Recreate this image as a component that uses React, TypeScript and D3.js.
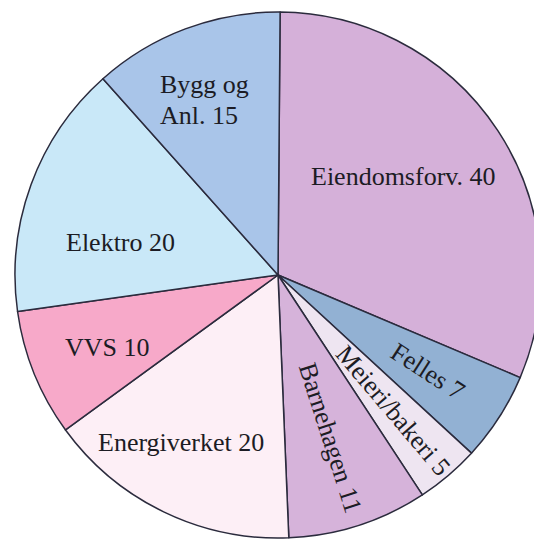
import React from "react";
import * as d3 from "d3";

const categories = [
  "Eiendomsforv.",
  "Felles",
  "Meieri/bakeri",
  "Barnehagen",
  "Energiverket",
  "VVS",
  "Elektro",
  "Bygg og Anl.",
];
const values = [40, 7, 5, 11, 20, 10, 20, 15];
const colors = [
  "#d5b0d9",
  "#92b1d3",
  "#eee5f1",
  "#d6b3da",
  "#fdeff6",
  "#f7a9c9",
  "#c9e8f8",
  "#a9c5e9",
];

// label layout (text lines, placement). "radial" labels follow the slice's mid angle.
type Lab =
  | { kind: "h"; lines: string[]; x: number; y: number }
  | { kind: "r"; lines: string[]; r: number };
const labels: Lab[] = [
  { kind: "h", lines: ["Eiendomsforv. 40"], x: 33, y: -90 },
  { kind: "r", lines: ["Felles 7"], r: 178 },
  { kind: "r", lines: ["Meieri/bakeri 5"], r: 178 },
  { kind: "r", lines: ["Barnehagen 11"], r: 171 },
  { kind: "h", lines: ["Energiverket 20"], x: -180, y: 176 },
  { kind: "h", lines: ["VVS 10"], x: -213, y: 81 },
  { kind: "h", lines: ["Elektro 20"], x: -212, y: -24 },
  { kind: "h", lines: ["Bygg og", "Anl. 15"], x: -118, y: -182 },
];

const W = 534;
const H = 540;
const CX = 278;
const CY = 275;
const R = 263;

export default function App() {
  const pie = d3
    .pie<number>()
    .sort(null)
    .value((d) => d)
    .startAngle(0.008)
    .endAngle(0.008 + 2 * Math.PI);
  const arcs = pie(values);
  const arc = d3.arc<d3.PieArcDatum<number>>().innerRadius(0).outerRadius(R);
  const font = "'Liberation Serif', 'Times New Roman', serif";

  return (
    <svg
      width={W}
      height={H}
      style={{ position: "absolute", left: 0, top: 0, background: "#fff" }}
    >
      <g transform={`translate(${CX},${CY})`}>
        {arcs.map((a, i) => (
          <path
            key={categories[i]}
            d={arc(a) || ""}
            fill={colors[i]}
            stroke="#2b2b3d"
            strokeWidth={1.5}
            strokeLinejoin="round"
          />
        ))}
        {arcs.map((a, i) => {
          const lab = labels[i];
          if (lab.kind === "h") {
            return (
              <text
                key={"t" + i}
                x={lab.x}
                y={lab.y}
                fontFamily={font}
                fontSize={26}
                fill="#1c1c24"
              >
                {lab.lines.map((l, j) => (
                  <tspan key={j} x={lab.x} dy={j === 0 ? 0 : 31}>
                    {l}
                  </tspan>
                ))}
              </text>
            );
          }
          const mid = (a.startAngle + a.endAngle) / 2;
          const px = Math.sin(mid) * lab.r;
          const py = -Math.cos(mid) * lab.r;
          const rot = (mid * 180) / Math.PI - 90;
          return (
            <text
              key={"t" + i}
              transform={`translate(${px},${py}) rotate(${rot})`}
              textAnchor="middle"
              dominantBaseline="central"
              fontFamily={font}
              fontSize={26}
              fill="#1c1c24"
            >
              {lab.lines[0]}
            </text>
          );
        })}
      </g>
    </svg>
  );
}
